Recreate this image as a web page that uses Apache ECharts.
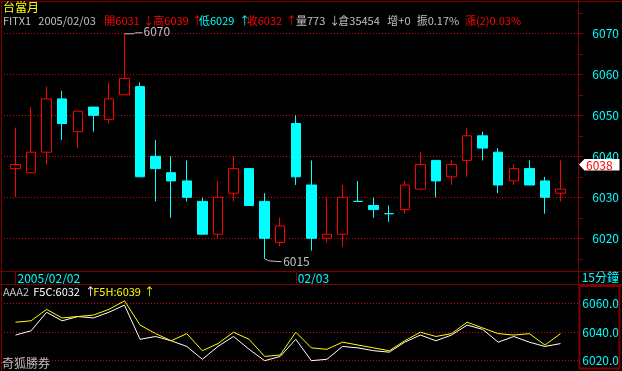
<!DOCTYPE html>
<html><head><meta charset="utf-8">
<script src="https://cdn.jsdelivr.net/npm/echarts@6/dist/echarts.min.js"></script>
<style>html,body{margin:0;padding:0;background:#000;}#c{width:622px;height:371px;}</style>
</head><body><div id="c"></div>
<script>
// ---- data ----
const dates = ['2005/02/02','2005/02/02','2005/02/02','2005/02/02','2005/02/02','2005/02/02',
  '2005/02/02','2005/02/02','2005/02/02','2005/02/02','2005/02/02','2005/02/02',
  '2005/02/02','2005/02/02','2005/02/02','2005/02/02','2005/02/02','2005/02/02',
  '2005/02/03','2005/02/03','2005/02/03','2005/02/03','2005/02/03','2005/02/03',
  '2005/02/03','2005/02/03','2005/02/03','2005/02/03','2005/02/03','2005/02/03',
  '2005/02/03','2005/02/03','2005/02/03','2005/02/03','2005/02/03','2005/02/03'];
const opens  = [6037,6036,6041,6054,6046,6052,6049,6055,6057,6040,6036,6034,6029,6021,6031,6037,6029,6019,6048,6033,6020,6021,6029,6028,6026,6027,6032,6039,6035,6039,6045,6041,6034,6037,6034,6031];
const closes = [6038,6041,6054,6048,6051,6050,6054,6059,6035,6037,6034,6030,6021,6030,6037,6028,6020,6023,6035,6020,6021,6030,6029,6027,6026,6033,6038,6034,6038,6045,6042,6033,6037,6033,6030,6032];
const lows   = [6030,6036,6038,6044,6042,6046,6048,6055,6035,6029,6025,6029,6021,6020,6029,6028,6015,6018,6033,6017,6019,6018,6029,6025,6024,6026,6032,6030,6033,6035,6039,6031,6033,6033,6026,6029];
const highs  = [6047,6052,6057,6056,6051,6052,6058,6070,6058,6044,6040,6039,6030,6034,6040,6037,6031,6025,6050,6039,6030,6033,6034,6030,6028,6034,6041,6039,6039,6047,6046,6042,6038,6039,6035,6039];
const f5c = closes;
const f5h    = [6047,6048,6056,6050,6051,6052,6056,6062,6045,6039,6034,6039,6027,6032,6040,6035,6023,6024,6040,6029,6028,6033,6031,6029,6027,6034,6040,6037,6039,6047,6043,6039,6038,6039,6031,6039];
const mainTicks = [6020,6030,6040,6050,6060,6070];
const mainMinorTicks = [6015,6020,6025,6030,6035,6040,6045,6050,6055,6060,6065,6070,6075];
const subTicks = [6020,6040,6060];
const currentPrice = 6038;
const volume = 773, openInterest = 35454;

// ---- style ----
const RED='#ff0000', CYAN='#00ffff', GRAY='#c0c0c0', YEL='#ffff00', WHITE='#ffffff';
const FRAME='#800000', DOT='#e00000';
const FF='"Noto Sans CJK TC", sans-serif';
const MAIN_TOP=33.3, MAIN_H=205, SUB_TOP=303.7, SUB_H=57;
const FRAME_L=1, FRAME_R=622-578.5, DATA_L=7.7, DATA_R=622-568.3;

const isDayStart = (i) => i===0 || dates[i]!==dates[i-1];

const chart = echarts.init(document.getElementById('c'), null, {renderer:'canvas'});
const option = {
  backgroundColor:'#000', animation:false,
  grid:[
    {left:FRAME_L, right:FRAME_R, top:MAIN_TOP, height:MAIN_H},
    {left:DATA_L, right:DATA_R, top:MAIN_TOP, height:MAIN_H},
    {left:FRAME_L, right:FRAME_R, top:SUB_TOP, height:SUB_H},
    {left:DATA_L, right:DATA_R, top:SUB_TOP, height:SUB_H}
  ],
  xAxis:[
    {gridIndex:0, type:'value', show:false, min:0, max:1},
    {gridIndex:1, type:'category', data:dates, boundaryGap:true,
      offset: 271-(MAIN_TOP+MAIN_H),
      axisLine:{show:false},
      axisTick:{show:true, alignWithLabel:true, interval:isDayStart, length:13, lineStyle:{color:FRAME}},
      axisLabel:{interval:isDayStart, color:CYAN, align:'left', margin:1, padding:[0,0,0,2],
        fontFamily:FF, fontSize:12, lineHeight:13,
        formatter:(v,i)=> i===0 ? v : v.slice(5)},
      splitLine:{show:false}},
    {gridIndex:2, type:'value', show:false, min:0, max:1},
    {gridIndex:3, type:'category', data:dates, boundaryGap:true, show:false}
  ],
  yAxis:[
    {gridIndex:0, type:'value', position:'right',
      min:mainTicks[0], max:mainTicks[mainTicks.length-1], interval:mainTicks[1]-mainTicks[0],
      axisLine:{show:false}, axisTick:{show:false},
      axisLabel:{color:CYAN, margin:15, fontFamily:FF, fontSize:12, formatter:v=>String(v)},
      splitLine:{show:false}},
    {gridIndex:1, type:'value', show:false, min:mainTicks[0], max:mainTicks[mainTicks.length-1]},
    {gridIndex:2, type:'value', position:'right',
      min:subTicks[0], max:subTicks[subTicks.length-1], interval:subTicks[1]-subTicks[0],
      axisLine:{show:false}, axisTick:{show:false},
      axisLabel:{color:CYAN, margin:4, fontFamily:FF, fontSize:12, formatter:v=>v.toFixed(1)},
      splitLine:{show:false}},
    {gridIndex:3, type:'value', show:false, min:subTicks[0], max:subTicks[subTicks.length-1]}
  ],
  series:[
    {type:'scatter', xAxisIndex:0, yAxisIndex:0, silent:true, symbolSize:0,
      itemStyle:{opacity:0}, data: mainTicks.map(v=>[0.5, v])},
    {type:'scatter', xAxisIndex:2, yAxisIndex:2, silent:true, symbolSize:0,
      itemStyle:{opacity:0}, data: subTicks.map(v=>[0.5, v])},
    {type:'candlestick', xAxisIndex:1, yAxisIndex:1, clip:false, barWidth:10, z:5,
      data: opens.map((o,i)=>[o, closes[i], lows[i], highs[i]]),
      itemStyle:{color:'#000', color0:CYAN, borderColor:RED, borderColor0:CYAN, borderWidth:1}},
    {type:'line', xAxisIndex:3, yAxisIndex:3, clip:false, data:f5c, symbol:'none', z:5,
      lineStyle:{color:WHITE, width:1}},
    {type:'line', xAxisIndex:3, yAxisIndex:3, clip:false, data:f5h, symbol:'none', z:5,
      lineStyle:{color:YEL, width:1}}
  ]
};
chart.setOption(option);

// ---- overlays positioned through the chart's own scales ----
function txt(id, text, x, y, color, size, align){
  return {type:'text', id, silent:true, style:{text, x, y, fill:color,
    font: (size||11)+'px '+FF, textAlign:align||'left', textVerticalAlign:'middle',
    align:align||'left', verticalAlign:'middle'}, z:100};
}
function line(id, x1,y1,x2,y2,color,w){
  return {type:'line', id, silent:true, shape:{x1,y1,x2,y2}, style:{stroke:color, lineWidth:w||1}, z:90};
}
const n = closes.length, last = n-1;
const g = [];
const pixY = (axis, v) => { const p = chart.convertToPixel({yAxisIndex:axis}, v); return Array.isArray(p) ? p[p.length-1] : p; };
// dotted rules at the axis ticks, built from 1px squares
function pushDots(prefix, y){
  let k = 0;
  for (let x = 4; x <= 577; x += 3) {
    g.push({type:'rect', id: prefix+'_'+(k++), silent:true, z:1,
      shape:{x:x, y:y, width:1, height:1}, style:{fill:DOT, stroke:null}});
  }
}
mainTicks.forEach((v,i)=> pushDots('gm'+i, Math.floor(pixY(0, v))));
subTicks.forEach((v,i)=> pushDots('gs'+i, Math.floor(pixY(2, v))));
// small ticks on the price axis
mainMinorTicks.forEach((v,i)=>{
  const y = Math.round(pixY(0, v)) + 0.5;
  g.push(line('tm'+i, 578, y, 583, y, FRAME, 1));
});
// frame
g.push(line('b1', 0,1.5,622,1.5,FRAME));
g.push(line('b2', 1.5,0,1.5,371,FRAME));
g.push(line('b3', 578.5,0,578.5,284,FRAME));
g.push(line('b4', 0,271.5,622,271.5,FRAME));
g.push(line('b5', 0,284.5,622,284.5,FRAME));
g.push({type:'rect', id:'box', silent:true, shape:{x:579.5,y:286,width:40,height:82.5},
  style:{stroke:FRAME, lineWidth:2, fill:null}, z:90});

// header
const pc = closes[last-1];
g.push(txt('t0','台當月',3,7,YEL,12));
const hy = 20.5;
g.push(txt('h1','FITX1',3,hy,GRAY));
g.push(txt('h2',dates[last],38.3,hy,GRAY));
g.push(txt('h3','開'+opens[last],104.3,hy,RED));
g.push(txt('h4','↓',143.3,hy,RED));
g.push(txt('h5','高'+highs[last],153.3,hy,RED));
g.push(txt('h6','↑',191.7,hy,RED));
g.push(txt('h7','低'+lows[last],199,hy,CYAN));
g.push(txt('h8','↑',239.3,hy,CYAN));
g.push(txt('h9','收'+closes[last],246.7,hy,RED));
g.push(txt('h10','↑',286,hy,RED));
g.push(txt('h11','量'+volume,296,hy,GRAY));
g.push(txt('h12','↓',329.3,hy,GRAY));
g.push(txt('h13','倉'+openInterest,338.3,hy,GRAY));
g.push(txt('h14','增+0',387.3,hy,GRAY));
g.push(txt('h15','振'+((highs[last]-lows[last])/pc*100).toFixed(2)+'%',416.7,hy,GRAY));
g.push(txt('h16','漲(2)'+((closes[last]-pc)/pc*100).toFixed(2)+'%',465,hy,RED));

// sub header
const sy = 292;
g.push(txt('s1','AAA2',3,sy,GRAY));
g.push(txt('s2','F5C:'+f5c[last],33.3,sy,WHITE));
g.push(txt('s3','↑',85,sy,WHITE));
g.push(txt('s4','F5H:'+f5h[last],93.3,sy,YEL));
g.push(txt('s5','↑',144,sy,YEL));
g.push(txt('s6','奇狐勝券',2,363,GRAY,12));
g.push(txt('s7','15分鐘',581.7,277.5,CYAN,12));

// current price marker
const cy = pixY(0, currentPrice);
g.push({type:'polygon', id:'pm', silent:true, z:95,
  shape:{points:[[579,cy],[584.5,cy-5.5],[619.5,cy-5.5],[619.5,cy+6],[584.5,cy+6]]},
  style:{fill:'#ffffff', stroke:null}});
g.push(txt('pmt', String(currentPrice), 586, cy+0.5, RED, 12));

// high / low annotations
let hiI=0, loI=0;
highs.forEach((v,i)=>{ if(v>highs[hiI]) hiI=i; });
lows.forEach((v,i)=>{ if(v<lows[loI]) loI=i; });
const hp = chart.convertToPixel({xAxisIndex:1, yAxisIndex:1}, [hiI, highs[hiI]]);
const lp = chart.convertToPixel({xAxisIndex:1, yAxisIndex:1}, [loI, lows[loI]]);
g.push({type:'polyline', id:'hl', silent:true, z:95,
  shape:{points:[[hp[0],hp[1]+0.5],[hp[0]+9,hp[1]+0.5],[hp[0]+11,hp[1]-0.5],[hp[0]+18,hp[1]-0.5]]},
  style:{stroke:GRAY, lineWidth:1, fill:null}});
g.push(txt('hlt', String(highs[hiI]), hp[0]+19, hp[1]-1.5, GRAY, 12));
g.push({type:'polyline', id:'ll', silent:true, z:95,
  shape:{points:[[lp[0],lp[1]],[lp[0]+4,lp[1]+2],[lp[0]+17,lp[1]+3]]},
  style:{stroke:GRAY, lineWidth:1, fill:null}});
g.push(txt('llt', String(lows[loI]), lp[0]+18.5, lp[1]+2.5, GRAY, 12));

chart.setOption({graphic:g});
</script></body></html>
